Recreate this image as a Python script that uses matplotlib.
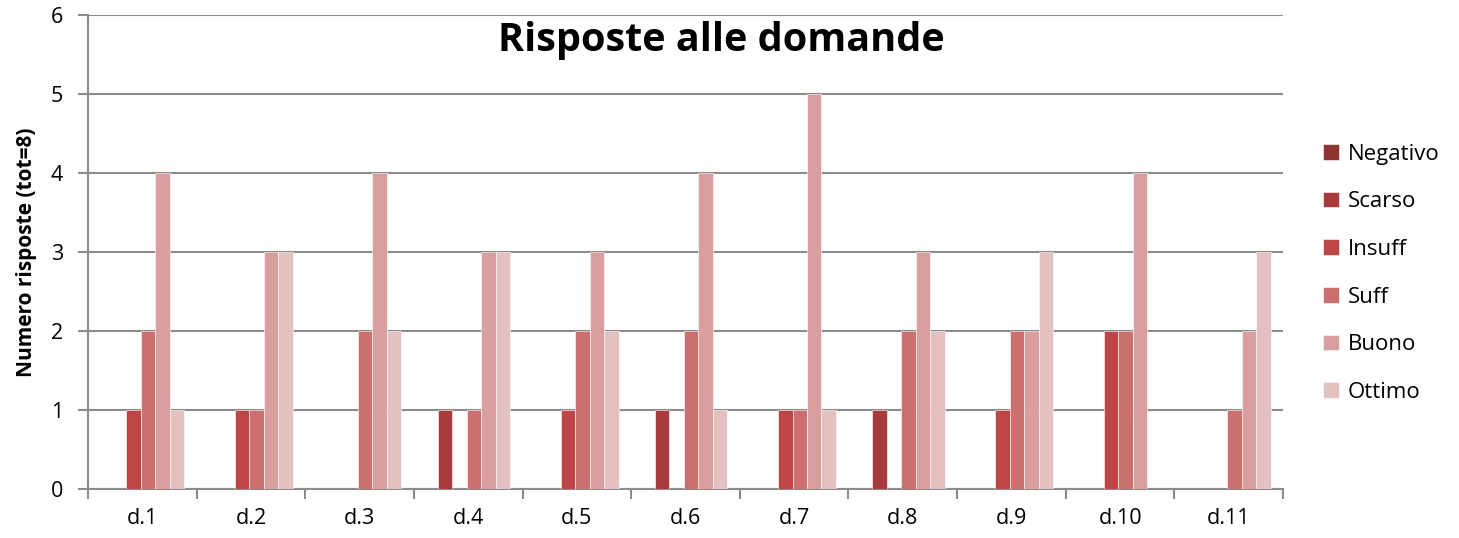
import numpy as np
from matplotlib import pyplot as plt

plt.rcParams['font.family'] = ['Open Sans', 'DejaVu Sans']

categories = ["d.1", "d.2", "d.3", "d.4", "d.5", "d.6", "d.7", "d.8", "d.9", "d.10", "d.11"]
series_names = ["Negativo", "Scarso", "Insuff", "Suff", "Buono", "Ottimo"]
negativo = [0, 0, 0, 0, 0, 0, 0, 0, 0, 0, 0]
scarso = [0, 0, 0, 1, 0, 1, 0, 1, 0, 0, 0]
insuff = [1, 1, 0, 0, 1, 0, 1, 0, 1, 2, 0]
suff = [2, 1, 2, 1, 2, 2, 1, 2, 2, 2, 1]
buono = [4, 3, 4, 3, 3, 4, 5, 3, 2, 4, 2]
ottimo = [1, 3, 2, 3, 2, 1, 1, 2, 3, 0, 3]
colors = ["#8E3232", "#A83C3C", "#BE4646", "#CC6F6F", "#D99F9F", "#E5C0C0"]


def draw_chart():
    fig = plt.figure(figsize=(14.59, 5.38), dpi=100)
    ax = fig.add_axes([0.0603, 0.0911, 0.8191, 0.881])
    values = [negativo, scarso, insuff, suff, buono, ottimo]
    x = np.arange(len(categories))
    w = 0.8 / 6
    for i, (name, vals) in enumerate(zip(series_names, values)):
        ax.bar(x - 0.415 + w * (i + 0.5), vals, width=w, color=colors[i],
               edgecolor="white", linewidth=0.4, label=name, zorder=3)

    ax.set_xlim(-0.5, len(categories) - 0.5)
    ax.set_ylim(0, 6)
    ax.set_yticks(range(0, 7))
    ax.set_xticks(x)
    ax.set_xticklabels(categories, fontsize=15.5)
    ax.set_xticks(np.arange(-0.5, len(categories)), minor=True)
    ax.tick_params(axis="x", which="major", length=0, pad=14)
    ax.tick_params(axis="x", which="minor", length=7, color="#8c8c8c", width=1.5)
    ax.tick_params(axis="y", length=7, color="#8c8c8c", width=1.5, labelsize=15.5, pad=11)
    ax.grid(axis="y", color="#8c8c8c", linewidth=1.5, zorder=0)
    for s in ["top", "right"]:
        ax.spines[s].set_visible(False)
    for s in ["left", "bottom"]:
        ax.spines[s].set_color("#8c8c8c")
        ax.spines[s].set_linewidth(1.5)
    ax.set_ylabel("Numero risposte (tot=8)", fontsize=15, fontweight="bold", labelpad=10)
    ax.text(0.53, 0.947, "Risposte alle domande", transform=ax.transAxes, ha="center",
            va="center", fontsize=28.5, fontweight="bold")
    ax.legend(loc="center left", bbox_to_anchor=(1.017, 0.455), frameon=False, fontsize=16,
              handlelength=0.7, handleheight=0.7, labelspacing=1.2, handletextpad=0.4)
    fig.savefig("out.png", dpi=100)


if __name__ == '__main__':
    draw_chart()
